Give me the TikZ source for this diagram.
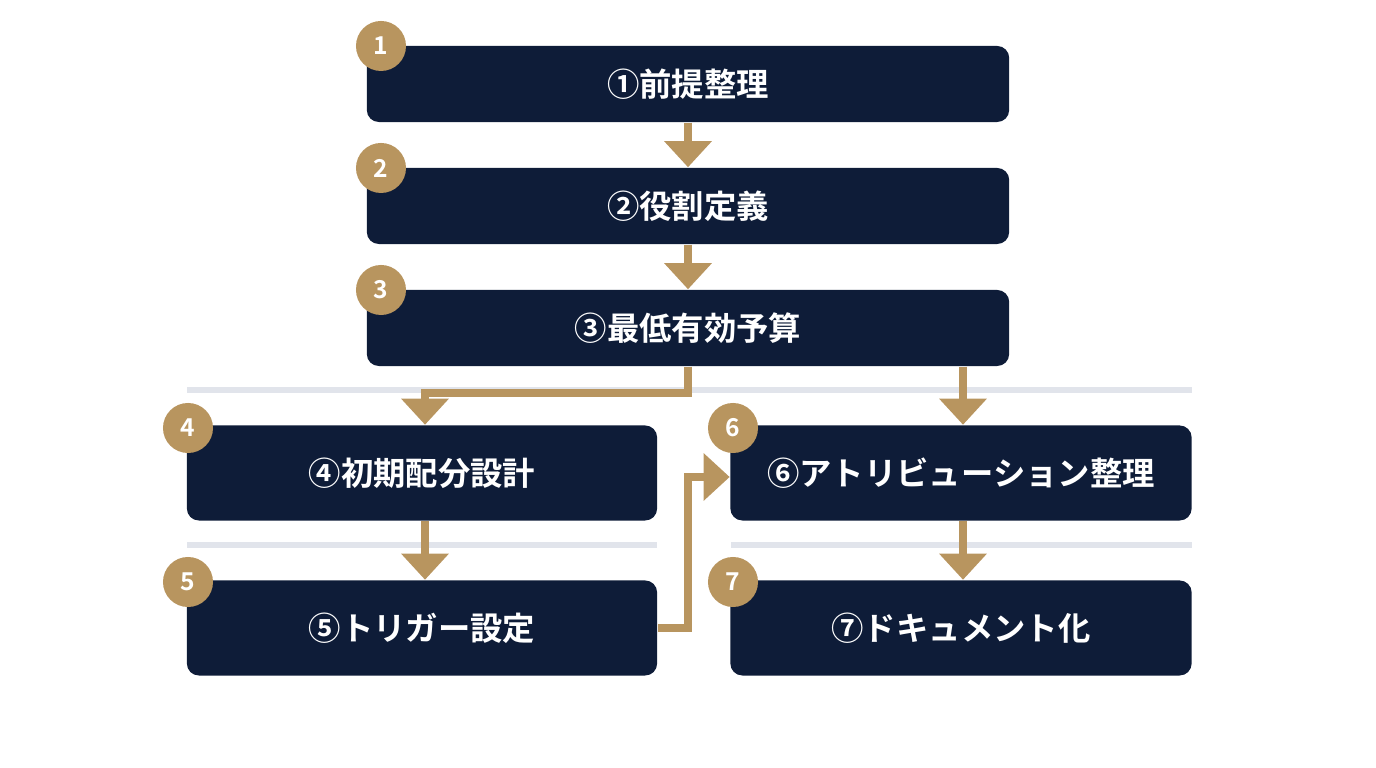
\documentclass[tikz,border=0pt]{standalone}
\usepackage{fontspec}
\newfontfamily\jpfont{Noto Sans CJK JP}[BoldFont={Noto Sans CJK JP Bold}]
\usetikzlibrary{arrows.meta}
\definecolor{navy}{HTML}{0E1C38}
\definecolor{gold}{HTML}{B8955F}
\definecolor{rule}{HTML}{E1E4EB}

\tikzset{
  stage/.style = {fill=navy, rounded corners=0.12cm, text=white,
    font=\jpfont\bfseries\fontsize{9.2}{10}\selectfont},
  badge/.style = {circle, fill=gold, text=white, inner sep=0pt,
    minimum size=0.5cm, font=\jpfont\bfseries\fontsize{7}{8}\selectfont},
  flow/.style = {draw=gold, line width=0.08cm,
    -{Triangle[length=0.26cm, width=0.46cm]}},
  sep/.style = {draw=rule, line width=0.06cm}
}

\begin{document}
\begin{tikzpicture}[x=0.01cm, y=-0.01cm]
\useasboundingbox (0,0) rectangle (1376,768);

% separators
\draw[sep] (187,390) -- (1192,390);
\draw[sep] (187,545) -- (657,545);
\draw[sep] (731,545) -- (1192,545);

% stages
\node[stage, minimum width=6.42cm, minimum height=0.76cm] (s1) at (688,84) {①前提整理};
\node[stage, minimum width=6.42cm, minimum height=0.76cm] (s2) at (688,206) {②役割定義};
\node[stage, minimum width=6.42cm, minimum height=0.76cm] (s3) at (688,328) {③最低有効予算};
\node[stage, minimum width=4.70cm, minimum height=0.95cm] (s4) at (422,473) {④初期配分設計};
\node[stage, minimum width=4.70cm, minimum height=0.95cm] (s5) at (422,628) {⑤トリガー設定};
\node[stage, minimum width=4.61cm, minimum height=0.95cm] (s6) at (961,473) {⑥アトリビューション整理};
\node[stage, minimum width=4.61cm, minimum height=0.95cm] (s7) at (961,628) {⑦ドキュメント化};

% badges
\node[badge] (b1) at (381,46) {1};
\node[badge] (b2) at (381,168) {2};
\node[badge] (b3) at (381,290) {3};
\node[badge] (b4) at (188,428) {4};
\node[badge] (b5) at (188,582) {5};
\node[badge] (b6) at (733,428) {6};
\node[badge] (b7) at (733,582) {7};

% connectors
\draw[flow] (s1) -- (s2);
\draw[flow] (s2) -- (s3);
\draw[flow] (s3.south) |- (425,393) -- (s4.north -| 425,0);
\draw[flow] (s3.south -| 963,0) -- (s6.north -| 963,0);
\draw[flow] (s4.south -| 425,0) -- (s5.north -| 425,0);
\draw[flow] (s5.east) -| (688,477) -- (s6.west |- 0,477);
\draw[flow] (s6.south -| 963,0) -- (s7.north -| 963,0);
\end{tikzpicture}
\end{document}
